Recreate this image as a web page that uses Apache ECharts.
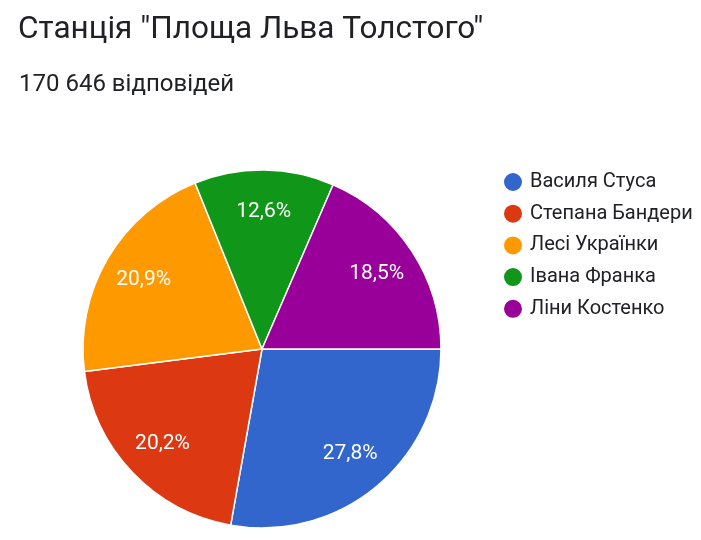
<!DOCTYPE html>
<html>
<head>
<meta charset="utf-8">
<script src="https://cdn.jsdelivr.net/npm/echarts@6/dist/echarts.min.js"></script>
<style>
html,body{margin:0;padding:0;background:#fff;}
#chart{width:701px;height:540px;}
</style>
</head>
<body>
<div id="chart"></div>
<script>
const titleText = 'Станція "Площа Льва Толстого"';
const subtitleText = '170 646 відповідей';
const categories = ['Василя Стуса', 'Степана Бандери', 'Лесі Українки', 'Івана Франка', 'Ліни Костенко'];
const values = [27.8, 20.2, 20.9, 12.6, 18.5];
const colors = ['#3366CC', '#DC3912', '#FF9900', '#109618', '#990099'];

const data = categories.map((c, i) => ({ name: c, value: values[i] }));
const FONT = 'Roboto, "Noto Sans", Arial, sans-serif';

const chart = echarts.init(document.getElementById('chart'), null, { renderer: 'canvas' });
chart.setOption({
  backgroundColor: '#ffffff',
  color: colors,
  animation: false,
  title: [
    { text: titleText, left: 13, top: 9,
      textStyle: { fontFamily: FONT, fontSize: 31.5, fontWeight: 'normal', color: '#202124' } },
    { text: subtitleText, left: 14, top: 68,
      textStyle: { fontFamily: FONT, fontSize: 24, fontWeight: 'normal', color: '#202124' } }
  ],
  legend: {
    orient: 'vertical', left: 497, top: 166,
    icon: 'circle', itemWidth: 20, itemHeight: 20, itemGap: 9.7,
    data: categories,
    textStyle: { fontFamily: FONT, fontSize: 20, lineHeight: 22, color: '#202124', padding: [0, 0, 0, 2] }
  },
  series: [
    {
      type: 'pie', center: [262, 349], radius: [0, 179],
      startAngle: 0, clockwise: true,
      data: data,
      label: { show: false }, labelLine: { show: false },
      itemStyle: { borderColor: '#ffffff', borderWidth: 1.5 },
      emphasis: { disabled: true }
    },
    {
      type: 'pie', center: [262, 349], radius: [89.5, 179],
      startAngle: 0, clockwise: true, silent: true,
      data: data,
      itemStyle: { color: 'rgba(0,0,0,0)', borderWidth: 0 },
      label: {
        show: true, position: 'inside', color: '#ffffff',
        fontFamily: FONT, fontSize: 21,
        formatter: p => p.value.toFixed(1).replace('.', ',') + '%'
      },
      labelLine: { show: false },
      emphasis: { disabled: true }
    }
  ]
});
</script>
</body>
</html>
